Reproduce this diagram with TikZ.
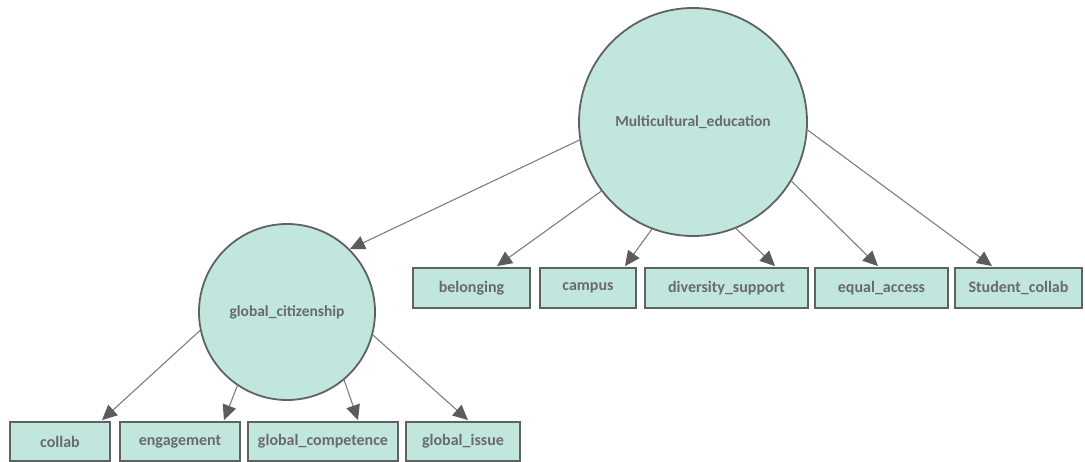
\documentclass[tikz,border=0pt]{standalone}
\usepackage{fontspec}
\setmainfont{Carlito}
\usetikzlibrary{arrows.meta}
\definecolor{boxfill}{HTML}{C0E6DE}
\definecolor{edgecol}{HTML}{5E6261}
\definecolor{txtcol}{HTML}{6A6A6A}
\definecolor{linecol}{HTML}{7E7E7E}
\definecolor{tipcol}{HTML}{5C5C5C}
\tikzset{
  latent/.style={circle, draw=edgecol, fill=boxfill, line width=1.8pt, inner sep=0pt,
    font=\fontsize{15.5}{18}\selectfont\bfseries, text=txtcol},
  manifest/.style={rectangle, draw=edgecol, fill=boxfill, line width=1.8pt, inner sep=0pt,
    font=\fontsize{16}{19}\selectfont\bfseries, text=txtcol},
  path/.style={draw=linecol, line width=1.1pt,
    -{Triangle[length=15pt,width=14pt,fill=tipcol,color=tipcol]}},
}
\begin{document}
\begin{tikzpicture}[x=1pt,y=-1pt]
\useasboundingbox (0,0) rectangle (1085,462);
% latent variables
\node[latent, minimum size=228pt] (me) at (693,122) {Multicultural\_education};
\node[latent, minimum size=176pt] (gc) at (287,312) {global\_citizenship};
% top row indicators
\node[manifest, minimum width=117pt, minimum height=40pt] (bel) at (471.5,288) {belonging};
\node[manifest, minimum width=96pt, minimum height=40pt] (cam) at (588,288) {campus};
\node[manifest, minimum width=163pt, minimum height=40pt] (div) at (726.5,288) {diversity\_support};
\node[manifest, minimum width=133pt, minimum height=40pt] (eqa) at (881.5,288) {equal\_access};
\node[manifest, minimum width=127pt, minimum height=40pt] (stc) at (1018.5,288) {Student\_collab};
% bottom row indicators
\node[manifest, minimum width=100pt, minimum height=39pt] (col) at (60,441.5) {collab};
\node[manifest, minimum width=120pt, minimum height=39pt] (eng) at (180,441.5) {engagement};
\node[manifest, minimum width=150pt, minimum height=39pt] (gcp) at (323,441.5) {global\_competence};
\node[manifest, minimum width=114pt, minimum height=39pt] (gis) at (463,441.5) {global\_issue};
% arrow end points
\coordinate (tbel) at ([xshift=25.5pt,yshift=1pt]bel.north);
\coordinate (tcam) at ([xshift=37pt,yshift=1pt]cam.north);
\coordinate (tdiv) at ([xshift=48.5pt,yshift=1pt]div.north);
\coordinate (teqa) at ([xshift=-3.5pt,yshift=1pt]eqa.north);
\coordinate (tstc) at ([xshift=-26.5pt,yshift=1pt]stc.north);
\coordinate (tcol) at ([xshift=42pt,yshift=1pt]col.north);
\coordinate (teng) at ([xshift=44pt,yshift=1pt]eng.north);
\coordinate (tgcp) at ([xshift=35pt,yshift=1pt]gcp.north);
\coordinate (tgis) at ([xshift=5pt,yshift=1pt]gis.north);
% paths
\draw[path] (me.189) -- (gc.45);
\draw[path] (me.217) -- (tbel);
\draw[path] (me.249) -- (tcam);
\draw[path] (me.292) -- (tdiv);
\draw[path] (me.329) -- (teqa);
\draw[path] (me.356) -- (tstc);
\draw[path] (gc.192) -- (tcol);
\draw[path] (gc.236) -- (teng);
\draw[path] (gc.310) -- (tgcp);
\draw[path] (gc.345) -- (tgis);
\end{tikzpicture}
\end{document}
